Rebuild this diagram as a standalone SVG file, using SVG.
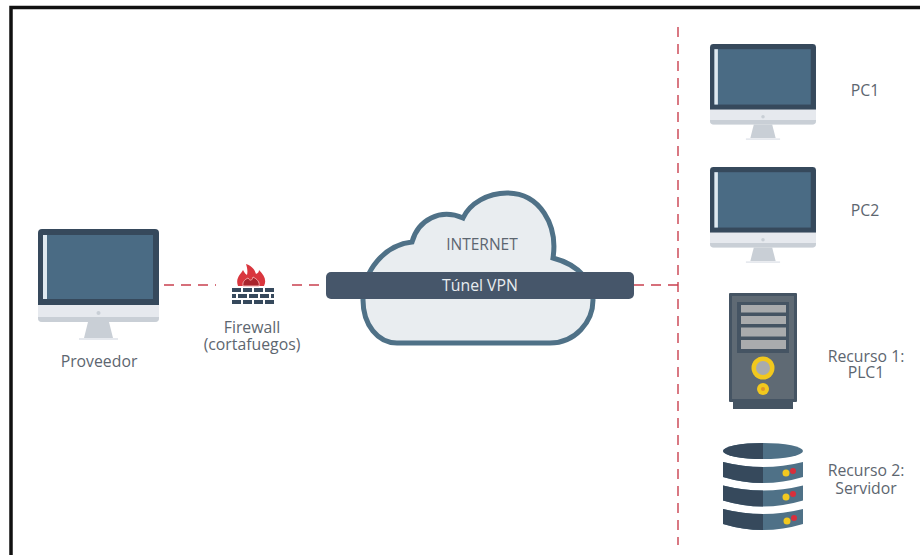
<svg xmlns="http://www.w3.org/2000/svg" width="920" height="555" viewBox="0 0 920 555">
<style>
text{font-family:"Open Sans","Noto Sans","Liberation Sans",sans-serif;fill:#5d6670;text-anchor:middle}
.lbl{font-size:15.800px}
.dash{fill:none;stroke:#c9404f;stroke-width:1.400;stroke-dasharray:10 7}
.brick{fill:#36495c}
.bar{fill:#a9abad}
.dk{fill:#36495c}
.lt{fill:#4f7187}
.ye{fill:#f2c81e}
.re{fill:#d92f3c}
</style>
<defs>
<g id="monitor">
<path d="M0 76V4a4 4 0 0 1 4-4H117a4 4 0 0 1 4 4V76Z" fill="#36495c"/>
<rect x="5" y="6" width="110" height="64" fill="#4a6b84"/>
<rect x="5" y="6" width="4" height="64" fill="#dfe9f0"/>
<path d="M0 76H121V89a4 4 0 0 1-4 4H4a4 4 0 0 1-4-4Z" fill="#e6e9ee"/>
<path d="M0 88H121V89a4 4 0 0 1-4 4H4a4 4 0 0 1-4-4Z" fill="#c9cfd6"/>
<circle cx="60.500" cy="84" r="2" fill="#c9cfd6"/>
<path d="M50 93H71L75 109H46Z" fill="#c9cfd6"/>
<rect x="41" y="109" width="39" height="2" fill="#e6e9ee"/>
</g>
<g id="disk">
<path d="M-40 0Q0 10 40 0V15Q0 27-40 15Z" class="lt"/>
<path d="M-40 0Q-20 5 0 5V21Q-20 21-40 15Z" class="dk"/>
</g>
</defs>

<rect width="920" height="555" fill="#fff"/>
<path d="M920 7.500H11V555" fill="none" stroke="#111" stroke-width="3.500"/>

<g id="connectors">
<path class="dash" d="M164 285H216"/>
<path class="dash" d="M292 285H326"/>
<path class="dash" d="M634 285H678"/>
<path class="dash" d="M678 27V545"/>
</g>

<g id="proveedor">
<use href="#monitor" transform="translate(38 229)"/>
<text class="lbl" x="99" y="367">Proveedor</text>
</g>

<g id="firewall">
<path d="M238 286C235 278 241 274 243 270C245 274 246 274 247 275C248 271 247 267 246 264C252 266 255 270 256 274C258 273 259 272 259 270C264 275 267 280 264 286Z" fill="#d9363e"/>
<path d="M243 286C242 281 246 279 248 278C250 281 252 281 253 277C257 279 260 282 259 286Z" fill="#a8242c" stroke="#f2a6a6" stroke-width="1"/>
<rect class="brick" x="232" y="288" width="9" height="4"/><rect class="brick" x="243" y="288" width="9" height="4"/><rect class="brick" x="254" y="288" width="9" height="4"/><rect class="brick" x="265" y="288" width="9" height="4"/>
<rect class="brick" x="232" y="294" width="4" height="4"/><rect class="brick" x="238" y="294" width="9" height="4"/><rect class="brick" x="249" y="294" width="9" height="4"/><rect class="brick" x="260" y="294" width="9" height="4"/><rect class="brick" x="271" y="294" width="3" height="4"/>
<rect class="brick" x="232" y="300" width="9" height="4"/><rect class="brick" x="243" y="300" width="9" height="4"/><rect class="brick" x="254" y="300" width="9" height="4"/><rect class="brick" x="265" y="300" width="9" height="4"/>
<text class="lbl" x="252" y="333">Firewall</text>
<text class="lbl" x="252" y="350">(cortafuegos)</text>
</g>

<g id="internet">
<path d="M397 343H550C575 343 593 322 593 300C593 283 580 265 553 258C558 225 540 193 507 193C488 193 470 203 463 218C440 208 418 220 412 242C385 245 363 270 363 300C363 325 378 343 397 343Z" fill="#e9edf0" stroke="#4f7187" stroke-width="5"/>
<text x="482" y="250" style="font-size:15.500px">INTERNET</text>
</g>

<g id="tunel">
<rect x="326" y="272" width="308" height="27" rx="5" fill="#46566a"/>
<text x="480" y="291" style="font-size:15.800px;fill:#e8ecef">Túnel VPN</text>
</g>

<g id="pc1">
<use href="#monitor" transform="translate(710 44) scale(.876 .865)"/>
<text class="lbl" x="865" y="96">PC1</text>
</g>

<g id="pc2">
<use href="#monitor" transform="translate(710 167) scale(.876 .865)"/>
<text class="lbl" x="865" y="216">PC2</text>
</g>

<g id="recurso1">
<rect x="733" y="400" width="60" height="9" fill="#455463"/>
<rect x="729" y="293" width="68" height="109" rx="1" fill="#455463"/>
<rect x="732" y="296" width="62" height="103" fill="#5f6a74"/>
<rect x="737" y="302" width="52" height="51" fill="#455463"/>
<rect class="bar" x="741" y="305" width="45" height="7.500"/>
<rect class="bar" x="741" y="316" width="45" height="8"/>
<rect class="bar" x="741" y="327.500" width="45" height="9"/>
<rect class="bar" x="741" y="340" width="45" height="9"/>
<circle class="ye" cx="763" cy="368" r="11.500"/>
<circle cx="763" cy="368" r="7" fill="#a9abad"/>
<circle class="ye" cx="763" cy="389" r="6"/>
<circle cx="763" cy="389" r="2" fill="#e0952a"/>
<text class="lbl" x="866" y="362">Recurso 1:</text>
<text class="lbl" x="866" y="378">PLC1</text>
</g>

<g id="recurso2">
<ellipse class="lt" cx="763" cy="451" rx="40" ry="8"/>
<path class="dk" d="M763 443A40 8 0 0 0 763 459Z"/>
<use href="#disk" transform="translate(763 462)"/>
<use href="#disk" transform="translate(763 485.500)"/>
<use href="#disk" transform="translate(763 509)"/>
<circle class="re" cx="793" cy="471" r="3"/><circle class="ye" cx="786" cy="473" r="3.500"/>
<circle class="re" cx="793" cy="494" r="3"/><circle class="ye" cx="786" cy="497" r="3.500"/>
<circle class="re" cx="794" cy="518" r="3"/><circle class="ye" cx="787" cy="521" r="3.500"/>
<text class="lbl" x="866" y="476">Recurso 2:</text>
<text class="lbl" x="866" y="494">Servidor</text>
</g>
</svg>
